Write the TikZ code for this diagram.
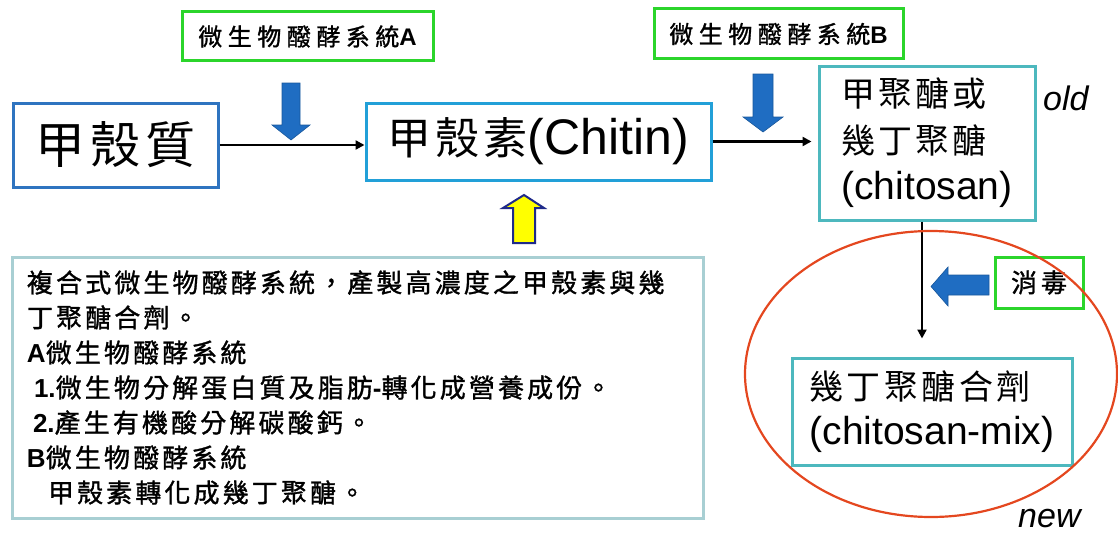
\documentclass[tikz,border=0pt]{standalone}
\usepackage{fontspec}
\usetikzlibrary{arrows.meta}
\newfontfamily\cjk{Noto Sans CJK TC}
\newfontfamily\cjkB[FakeBold=1.2]{Noto Sans CJK TC}
\newfontfamily\cjkT[LetterSpace=12,FakeBold=1.2]{Noto Sans CJK TC}
\newfontfamily\arl{Liberation Sans}
\newcommand\fsz[2]{\fontsize{#1}{#2}\selectfont}
\definecolor{bonec}{HTML}{2F74C0}
\definecolor{btwoc}{HTML}{22A0D8}
\definecolor{tealc}{HTML}{4DB8BE}
\definecolor{grnc}{HTML}{2BD52B}
\definecolor{arrblue}{HTML}{1F6DC2}
\definecolor{navyc}{HTML}{1F2A8A}
\definecolor{yelc}{HTML}{FFFF00}
\definecolor{tbc}{HTML}{A8CFD3}
\definecolor{redc}{HTML}{E4471F}
\tikzset{
  mainbox/.style={draw, line width=3pt, fill=white, inner sep=0pt},
  greenbox/.style={draw=grnc, line width=3pt, fill=white, inner sep=0pt},
  conn/.style={line width=2.5pt, -{Triangle[length=9pt,width=9pt]}},
  bluearrow/.style={fill=arrblue, draw=arrblue!80!black, line width=0.6pt, line join=miter},
}
\begin{document}
\begin{tikzpicture}[x=1pt,y=-1pt]
\useasboundingbox (0,0) rectangle (1118,535);

% main boxes
\node[mainbox, draw=bonec, minimum width=205pt, minimum height=84pt] (b1) at (115.5,145)
  {\cjk\addfontfeature{LetterSpace=10}\fsz{50pt}{60pt}甲殼質};
\node[mainbox, draw=btwoc, minimum width=345pt, minimum height=77pt] (b2) at (538.5,141.5)
  {{\cjk\addfontfeature{LetterSpace=9}\fsz{44pt}{52pt}甲殼素}{\arl\fsz{50pt}{60pt}(Chitin)}};
\node[mainbox, draw=tealc, minimum width=216pt, minimum height=154pt, align=left,
  font=\fsz{39pt}{46.5pt}] (b3) at (927,143)
  {{\cjk\addfontfeature{LetterSpace=9}\fontsize{34pt}{46.5pt}\selectfont 甲聚醣或}\\
   {\cjk\addfontfeature{LetterSpace=9}\fontsize{34pt}{46.5pt}\selectfont 幾丁聚醣}\\
   {\arl (chitosan)}};
\node[mainbox, draw=tealc, minimum width=280pt, minimum height=107pt, align=left,
  font=\fsz{39pt}{45pt}] (mix) at (932,411.5)
  {{\cjk\addfontfeature{LetterSpace=10}\fontsize{34pt}{45pt}\selectfont 幾丁聚醣合劑}\\
   {\arl (chitosan-mix)}};

% green labels
\node[greenbox, minimum width=251pt, minimum height=49pt] (ga) at (307.5,36.5)
  {{\cjkB\addfontfeature{LetterSpace=23}\fsz{24pt}{28pt}微生物醱酵系統}{\arl\bfseries\fsz{24pt}{28pt}A}};
\node[greenbox, minimum width=249pt, minimum height=50pt] (gb) at (778.5,34)
  {{\cjkB\addfontfeature{LetterSpace=23}\fsz{24pt}{28pt}微生物醱酵系統}{\arl\bfseries\fsz{24pt}{28pt}B}};
\node[greenbox, minimum width=88pt, minimum height=51pt] (gc) at (1039,282.5)
  {{\cjkB\addfontfeature{LetterSpace=15}\fsz{26pt}{30pt}消毒}};

% text box
\node[draw=tbc, line width=3pt, fill=white, minimum width=691pt, minimum height=261pt,
  text width=661pt, inner xsep=15pt, align=left, font=\cjkT\fsz{26pt}{35pt}] (tb) at (357.5,387.5)
  {複合式微生物醱酵系統，產製高濃度之甲殼素與幾\\
   丁聚醣合劑。\\
   {\arl\bfseries A}微生物醱酵系統\\
   \hspace*{7pt}{\arl\bfseries 1.}微生物分解蛋白質及脂肪{\arl\bfseries -}轉化成營養成份。\\
   \hspace*{6pt}{\arl\bfseries 2.}產生有機酸分解碳酸鈣。\\
   {\arl\bfseries B}微生物醱酵系統\\
   \hspace*{21pt}甲殼素轉化成幾丁聚醣。};

% side labels
\node[anchor=base west, inner sep=0pt, font=\arl\itshape\fsz{34pt}{40pt}] (old) at (1043,110) {old};
\node[anchor=base west, inner sep=0pt, font=\arl\itshape\fsz{34pt}{40pt}] (new) at (1018,527) {new};

% connectors
\draw[conn] (b1.east) -- (b1.east -| b2.west);
\draw[conn, shorten >=6pt] (b2.east) -- (b2.east -| b3.west);
\draw[conn, shorten >=18pt] ([xshift=-5pt]b3.south) -- ([xshift=-5pt]b3.south |- mix.north);

% block arrows
\path[bluearrow] (282,83) -- (300,83) -- (300,125) -- (310,125) -- (291,140) -- (272,125) -- (282,125) -- cycle;
\path[bluearrow] (753,74) -- (773,74) -- (773,117) -- (783,117) -- (763,132) -- (743,117) -- (753,117) -- cycle;
\path[bluearrow] (989,275) -- (989,295) -- (948,295) -- (948,306) -- (931,286.5) -- (948,267) -- (948,275) -- cycle;
\path[fill=yelc, draw=navyc, line width=2pt, line join=miter] (524,195) -- (544,208) -- (535,208) -- (535,243) -- (513,243) -- (513,208) -- (503,208) -- cycle;

% red ellipse
\draw[redc, line width=2.2pt] (931,374) ellipse [x radius=186pt, y radius=143pt];
\end{tikzpicture}
\end{document}
